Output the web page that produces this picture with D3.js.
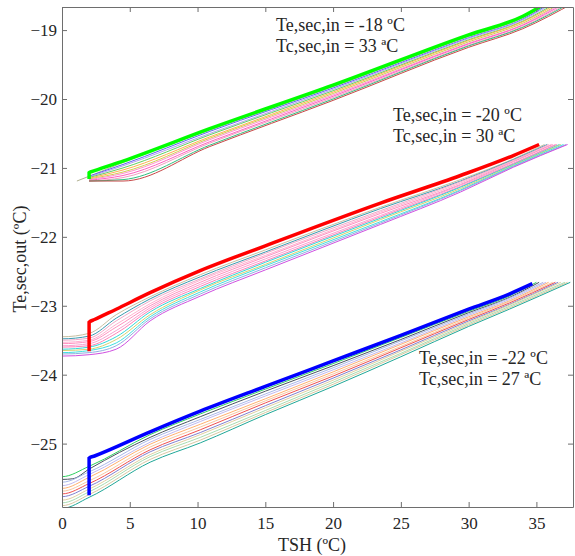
<!DOCTYPE html>
<html>
<head>
<meta charset="utf-8">
<script src="https://cdn.jsdelivr.net/npm/d3@7"></script>
<style>
  body { margin: 0; background: #fff; }
  text { font-family: "Liberation Serif", "Times New Roman", serif; fill: #262626; }
</style>
</head>
<body>
<div id="chart"></div>
<script>
// Chart data
// ==============================
var xTicks = [0, 5, 10, 15, 20, 25, 30, 35];
var yTicks = [-25, -24, -23, -22, -21, -20, -19];

// Te,sec,in = -18, Tc,sec,in = 33 (green)
var greenBold = [[2, -21.16], [2, -21.07], [2.4, -21.04], [4.5, -20.90], [10.9, -20.43], [20, -19.80], [30, -19.07], [34, -18.80], [35.8, -18.6]];
var greenThin = [
  [[1.1, -21.19], [2.4, -21.09], [4.5, -20.92], [10.9, -20.45], [20, -19.82], [30, -19.09], [34, -18.82], [35.9, -18.6]],
  [[2, -21.12], [4.5, -20.95], [10.9, -20.47], [20, -19.84], [30, -19.11], [34, -18.84], [36.1, -18.6]],
  [[2, -21.13], [4.5, -20.97], [10.9, -20.50], [20, -19.86], [30, -19.12], [34, -18.85], [36.3, -18.6]],
  [[2, -21.14], [4.5, -21.00], [10.9, -20.52], [20, -19.88], [30, -19.14], [34, -18.87], [36.5, -18.6]],
  [[2, -21.15], [4.5, -21.03], [10.9, -20.55], [20, -19.90], [30, -19.15], [34, -18.88], [36.7, -18.6]],
  [[2, -21.16], [4.5, -21.06], [10.9, -20.57], [20, -19.92], [30, -19.17], [34, -18.90], [36.9, -18.6]],
  [[2, -21.17], [4.5, -21.08], [10.9, -20.59], [20, -19.94], [30, -19.19], [34, -18.92], [37.0, -18.6]],
  [[2, -21.18], [4.5, -21.11], [10.9, -20.62], [20, -19.96], [30, -19.20], [34, -18.93], [37.2, -18.6]],
  [[2, -21.19], [4.5, -21.14], [10.9, -20.64], [20, -19.98], [30, -19.22], [34, -18.95], [37.4, -18.6]],
  [[2, -21.19], [4.5, -21.17], [10.9, -20.67], [20, -20.00], [30, -19.23], [34, -18.96], [37.6, -18.6]],
  [[2, -21.19], [4.5, -21.19], [10.9, -20.69], [20, -20.02], [30, -19.25], [34, -18.98], [37.8, -18.6]]
];
var greenColors = ["#b0b090", "#6060f0", "#b0a0f0", "#60d060", "#ffb050", "#d0d050", "#ff90d0", "#ff60c0", "#f0a0c0", "#30c080", "#c84848"];

// Te,sec,in = -20, Tc,sec,in = 30 (red)
var redBold = [[2, -23.66], [2, -23.24], [2.4, -23.20], [4, -23.05], [6.5, -22.81], [10.2, -22.49], [15, -22.13], [23.5, -21.51], [29.4, -21.11], [33.3, -20.82], [35.2, -20.66]];
var redThin = [
  [[0, -23.27], [0, -23.45], [2, -23.40], [4, -23.13], [6.5, -22.87], [10.2, -22.55], [15, -22.19], [23.5, -21.57], [29.4, -21.17], [33.3, -20.87], [35.6, -20.66]],
  [[0, -23.29], [0, -23.48], [2, -23.44], [4, -23.18], [6.5, -22.90], [10.2, -22.58], [15, -22.22], [23.5, -21.59], [29.4, -21.19], [33.3, -20.88], [35.8, -20.66]],
  [[0, -23.31], [0, -23.50], [2, -23.47], [4, -23.22], [6.5, -22.93], [10.2, -22.61], [15, -22.24], [23.5, -21.62], [29.4, -21.20], [33.3, -20.89], [35.9, -20.66]],
  [[0, -23.32], [0, -23.53], [2, -23.50], [4, -23.27], [6.5, -22.97], [10.2, -22.63], [15, -22.27], [23.5, -21.64], [29.4, -21.22], [33.3, -20.90], [36.1, -20.66]],
  [[0, -23.34], [0, -23.55], [2, -23.52], [4, -23.31], [6.5, -23.00], [10.2, -22.66], [15, -22.29], [23.5, -21.66], [29.4, -21.24], [33.3, -20.91], [36.2, -20.66]],
  [[0, -23.36], [0, -23.58], [2, -23.55], [4, -23.36], [6.5, -23.03], [10.2, -22.69], [15, -22.32], [23.5, -21.69], [29.4, -21.25], [33.3, -20.93], [36.4, -20.66]],
  [[0, -23.38], [0, -23.60], [2, -23.58], [4, -23.40], [6.5, -23.06], [10.2, -22.72], [15, -22.35], [23.5, -21.71], [29.4, -21.27], [33.3, -20.94], [36.5, -20.66]],
  [[0, -23.40], [0, -23.63], [2, -23.60], [4, -23.45], [6.5, -23.09], [10.2, -22.75], [15, -22.37], [23.5, -21.73], [29.4, -21.28], [33.3, -20.95], [36.7, -20.66]],
  [[0, -23.41], [0, -23.65], [2, -23.63], [4, -23.49], [6.5, -23.13], [10.2, -22.77], [15, -22.40], [23.5, -21.75], [29.4, -21.30], [33.3, -20.96], [36.8, -20.66]],
  [[0, -23.43], [0, -23.68], [2, -23.65], [4, -23.54], [6.5, -23.16], [10.2, -22.80], [15, -22.42], [23.5, -21.78], [29.4, -21.32], [33.3, -20.97], [37.0, -20.66]],
  [[0, -23.45], [0, -23.70], [2, -23.68], [4, -23.58], [6.5, -23.19], [10.2, -22.83], [15, -22.45], [23.5, -21.80], [29.4, -21.33], [33.3, -20.98], [37.2, -20.66]],
  [[0, -23.47], [0, -23.73], [2, -23.71], [4, -23.63], [6.5, -23.22], [10.2, -22.86], [15, -22.48], [23.5, -21.82], [29.4, -21.35], [33.3, -20.99], [37.3, -20.66]]
];
var redColors = ["#c8c0a0", "#3a9ab0", "#f0a8c8", "#ffb0d0", "#ff90c0", "#f8a0d0", "#ff80b8", "#30d8d8", "#d8d070", "#40e0e0", "#90b0e0", "#d050e0"];

// Te,sec,in = -22, Tc,sec,in = 27 (blue)
var blueBold = [[2, -25.75], [2, -25.21], [2.4, -25.18], [6.5, -24.83], [10.2, -24.53], [15, -24.17], [20, -23.80], [25, -23.43], [30, -23.05], [33, -22.83], [34.7, -22.68]];
var blueThin = [
  [[0, -25.08], [0, -25.48], [2, -25.33], [6.5, -24.87], [10.2, -24.57], [15, -24.21], [20, -23.84], [25, -23.46], [30, -23.08], [33, -22.86], [35.0, -22.66]],
  [[0, -25.12], [0, -25.52], [0.8, -25.51], [2, -25.37], [6.5, -24.91], [10.2, -24.61], [15, -24.24], [20, -23.87], [25, -23.49], [30, -23.10], [33, -22.88], [35.2, -22.66]],
  [[0, -25.15], [0, -25.56], [2, -25.41], [6.5, -24.94], [10.2, -24.65], [15, -24.28], [20, -23.90], [25, -23.51], [30, -23.12], [33, -22.89], [35.5, -22.66]],
  [[0, -25.19], [0, -25.61], [2, -25.45], [6.5, -24.98], [10.2, -24.68], [15, -24.31], [20, -23.93], [25, -23.54], [30, -23.14], [33, -22.91], [35.7, -22.66]],
  [[0, -25.22], [0, -25.65], [2, -25.49], [6.5, -25.01], [10.2, -24.72], [15, -24.35], [20, -23.96], [25, -23.56], [30, -23.16], [33, -22.93], [35.9, -22.66]],
  [[0, -25.26], [0, -25.69], [2, -25.54], [6.5, -25.05], [10.2, -24.76], [15, -24.38], [20, -23.99], [25, -23.59], [30, -23.18], [33, -22.94], [36.2, -22.66]],
  [[0, -25.29], [0, -25.73], [2, -25.58], [6.5, -25.09], [10.2, -24.80], [15, -24.41], [20, -24.02], [25, -23.61], [30, -23.20], [33, -22.96], [36.4, -22.66]],
  [[0, -25.33], [0, -25.77], [2, -25.62], [6.5, -25.12], [10.2, -24.84], [15, -24.45], [20, -24.05], [25, -23.64], [30, -23.22], [33, -22.98], [36.6, -22.66]],
  [[0, -25.36], [0, -25.82], [2, -25.66], [6.5, -25.16], [10.2, -24.87], [15, -24.48], [20, -24.08], [25, -23.66], [30, -23.24], [33, -22.99], [36.8, -22.66]],
  [[0, -25.40], [0, -25.86], [2, -25.70], [6.5, -25.19], [10.2, -24.91], [15, -24.52], [20, -24.11], [25, -23.69], [30, -23.26], [33, -23.01], [37.1, -22.66]],
  [[0, -25.43], [0, -25.90], [2, -25.74], [6.5, -25.23], [10.2, -24.95], [15, -24.55], [20, -24.14], [25, -23.71], [30, -23.28], [33, -23.03], [37.3, -22.66]],
  [[0, -25.47], [0, -25.94], [2, -25.78], [6.5, -25.27], [10.2, -24.99], [15, -24.58], [20, -24.17], [25, -23.74], [30, -23.30], [33, -23.05], [37.5, -22.66]]
];
var blueColors = ["#2fcf5f", "#4a5560", "#a8b8e8", "#c0b8f0", "#ffb070", "#f8c8a0", "#f05050", "#8080d0", "#e0d0a0", "#a8dcb0", "#d8c8a0", "#20a898"];

var annotations = [
  ["Te,sec,in = -18 ºC", "Tc,sec,in = 33 ªC"],
  ["Te,sec,in = -20 ºC", "Tc,sec,in = 30 ªC"],
  ["Te,sec,in = -22 ºC", "Tc,sec,in = 27 ªC"]
];

// Layout
// ==============================
var svgWidth = 575;
var svgHeight = 556;

var margin = { top: 7, right: 2, bottom: 49, left: 62 };

var width = svgWidth - margin.left - margin.right;
var height = svgHeight - margin.top - margin.bottom;

var svg = d3.select("#chart")
  .append("svg")
  .attr("width", svgWidth)
  .attr("height", svgHeight);

var chartGroup = svg.append("g")
  .attr("transform", `translate(${margin.left}, ${margin.top})`);

// Scales
// ==============================
var xLinearScale = d3.scaleLinear()
  .domain([0, 37.7])
  .range([0, width]);

var yLinearScale = d3.scaleLinear()
  .domain([-25.92, -18.665])
  .range([height, 0]);

svg.append("defs").append("clipPath")
  .attr("id", "plotClip")
  .append("rect")
  .attr("width", width)
  .attr("height", height);

// Lines
// ==============================
var line = d3.line()
  .x(d => xLinearScale(d[0]))
  .y(d => yLinearScale(d[1]))
  .curve(d3.curveMonotoneX);

var linesGroup = chartGroup.append("g").attr("clip-path", "url(#plotClip)");

function drawGroup(thin, colors, bold, boldColor) {
  linesGroup.append("g")
    .selectAll("path")
    .data(thin)
    .enter()
    .append("path")
    .attr("d", line)
    .attr("fill", "none")
    .attr("stroke", (d, i) => colors[i])
    .attr("stroke-width", 1);

  linesGroup.append("path")
    .datum(bold)
    .attr("d", line)
    .attr("fill", "none")
    .attr("stroke", boldColor)
    .attr("stroke-width", 3.5);
}

drawGroup(greenThin, greenColors, greenBold, "#00ff00");
drawGroup(redThin, redColors, redBold, "#ff0000");
drawGroup(blueThin, blueColors, blueBold, "#0000ff");

// Axes (box with inward ticks)
// ==============================
var bottomAxis = d3.axisBottom(xLinearScale).tickValues(xTicks).tickSizeInner(-5).tickSizeOuter(0).tickPadding(10);
var topAxis = d3.axisTop(xLinearScale).tickValues(xTicks).tickSizeInner(-5).tickSizeOuter(0).tickFormat("");
var leftAxis = d3.axisLeft(yLinearScale).tickValues(yTicks).tickSizeInner(-5).tickSizeOuter(0).tickPadding(5);
var rightAxis = d3.axisRight(yLinearScale).tickValues(yTicks).tickSizeInner(-5).tickSizeOuter(0).tickFormat("");

chartGroup.append("g").attr("transform", `translate(0, ${height})`).call(bottomAxis);
chartGroup.append("g").call(topAxis);
chartGroup.append("g").call(leftAxis);
chartGroup.append("g").attr("transform", `translate(${width}, 0)`).call(rightAxis);

chartGroup.selectAll(".domain, .tick line")
  .attr("stroke", "#6e6e6e");

chartGroup.selectAll(".tick text")
  .attr("font-size", "17px")
  .attr("font-family", "'Liberation Serif', 'Times New Roman', serif")
  .attr("fill", "#262626");

// Annotations
// ==============================
var annoPos = [[276, 31], [393, 121], [419, 364]];
annotations.forEach(function(lines, k) {
  var t = svg.append("text")
    .attr("x", annoPos[k][0])
    .attr("y", annoPos[k][1])
    .attr("font-size", "18px");
  lines.forEach(function(s, j) {
    t.append("tspan")
      .attr("x", annoPos[k][0])
      .attr("dy", j === 0 ? 0 : 21)
      .text(s);
  });
});

// Axes labels
// ==============================
svg.append("text")
  .attr("transform", "rotate(-90)")
  .attr("x", -259)
  .attr("y", 26)
  .attr("text-anchor", "middle")
  .attr("font-size", "18px")
  .text("Te,sec,out (ºC)");

svg.append("text")
  .attr("x", 312)
  .attr("y", 551)
  .attr("text-anchor", "middle")
  .attr("font-size", "18px")
  .text("TSH (ºC)");
</script>
</body>
</html>
